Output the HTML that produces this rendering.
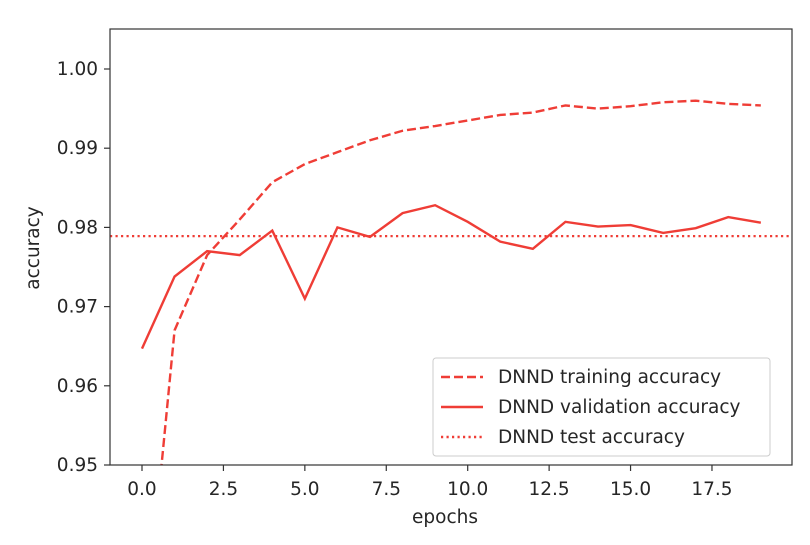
<!DOCTYPE html>
<html><head><meta charset="utf-8"><style>
html,body{margin:0;padding:0;background:#fff;overflow:hidden;width:810px;height:545px;}
svg{display:block;position:absolute;left:0;top:0;}
svg text{font-family:"DejaVu Sans","Liberation Sans",sans-serif;fill:#262626;}
</style></head><body>
<svg width="810" height="545" xmlns="http://www.w3.org/2000/svg">
<g id="plot"></g>
</svg>
<script>
const epochs=[0,1,2,3,4,5,6,7,8,9,10,11,12,13,14,15,16,17,18,19];
const trainAcc=[0.9245,0.967,0.9765,0.981,0.9857,0.988,0.9895,0.991,0.9922,0.9928,0.9935,0.9942,0.9945,0.9954,0.995,0.9953,0.9958,0.996,0.9956,0.9954];
const valAcc=[0.9647,0.9738,0.977,0.9765,0.9796,0.971,0.98,0.9788,0.9818,0.9828,0.9807,0.9782,0.9773,0.9807,0.9801,0.9803,0.9793,0.9799,0.9813,0.9806];
const testAcc=0.9789;
const xTicks=[0,2.5,5,7.5,10,12.5,15,17.5];
const xTickLabels=["0.0","2.5","5.0","7.5","10.0","12.5","15.0","17.5"];
const yTicks=[0.95,0.96,0.97,0.98,0.99,1.00];
const yTickLabels=["0.95","0.96","0.97","0.98","0.99","1.00"];
const legendLabels=["DNND training accuracy","DNND validation accuracy","DNND test accuracy"];

const NS="http://www.w3.org/2000/svg";
const g=document.getElementById('plot');
const L=110,R=792,T=29,B=465;
const xs=v=>142+v*32.57;
const ys=v=>465-(v-0.95)*7920;
const RED="#ef3d36";
function mk(tag,attrs,parent){const e=document.createElementNS(NS,tag);for(const k in attrs)e.setAttribute(k,attrs[k]);(parent||g).appendChild(e);return e;}

const defs=mk('defs',{});
const cp=mk('clipPath',{id:'clip'},defs);
mk('rect',{x:L,y:T,width:R-L,height:B-T},cp);

const data=mk('g',{'clip-path':'url(#clip)'});



const tl=mk('line',{x1:L,x2:R,y1:ys(testAcc),y2:ys(testAcc),stroke:RED,'stroke-width':2.2,'stroke-dasharray':'2.2 3.3'},data);



const tp=mk('polyline',{points:epochs.map((e,i)=>xs(e)+','+ys(trainAcc[i])).join(' '),fill:'none',stroke:RED,'stroke-width':2.4,'stroke-dasharray':'9 4'},data);



const vp=mk('polyline',{points:epochs.map((e,i)=>xs(e)+','+ys(valAcc[i])).join(' '),fill:'none',stroke:RED,'stroke-width':2.4},data);



const frame=mk('rect',{x:L,y:T,width:R-L,height:B-T,fill:'none',stroke:'#333','stroke-width':1.2});



xTicks.forEach((v,i)=>{
  mk('line',{x1:xs(v),x2:xs(v),y1:B,y2:B+6,stroke:'#333','stroke-width':1.2});
  const t=mk('text',{x:xs(v),y:B+30,'text-anchor':'middle','font-size':18.5});
  t.textContent=xTickLabels[i];
  
  
});
yTicks.forEach((v,i)=>{
  mk('line',{x1:L-6,x2:L,y1:ys(v),y2:ys(v),stroke:'#333','stroke-width':1.2});
  const t=mk('text',{x:L-12,y:ys(v)+6,'text-anchor':'end','font-size':18.5});
  t.textContent=yTickLabels[i];
  
  
});
const xt=mk('text',{x:445,y:523,'text-anchor':'middle','font-size':18.5});
xt.textContent='epochs';


const yt=mk('text',{x:39,y:248,'text-anchor':'middle','font-size':18.5,transform:'rotate(-90 39 248)'});
yt.textContent='accuracy';



const lg=mk('g',{});


mk('rect',{x:433,y:358,width:337,height:98,rx:3,fill:'#fff','fill-opacity':0.85,stroke:'#ccc'},lg);
const dashes=['9 4',null,'2.2 3.3'];
legendLabels.forEach((s,i)=>{
  const y=377+i*30;
  const a={x1:441,x2:483,y1:y,y2:y,stroke:RED,'stroke-width':2.4};
  if(dashes[i])a['stroke-dasharray']=dashes[i];
  mk('line',a,lg);
  const t=mk('text',{x:498,y:y+6,'font-size':18.5},lg);
  t.textContent=s;
  
  
});
</script>
</body></html>
